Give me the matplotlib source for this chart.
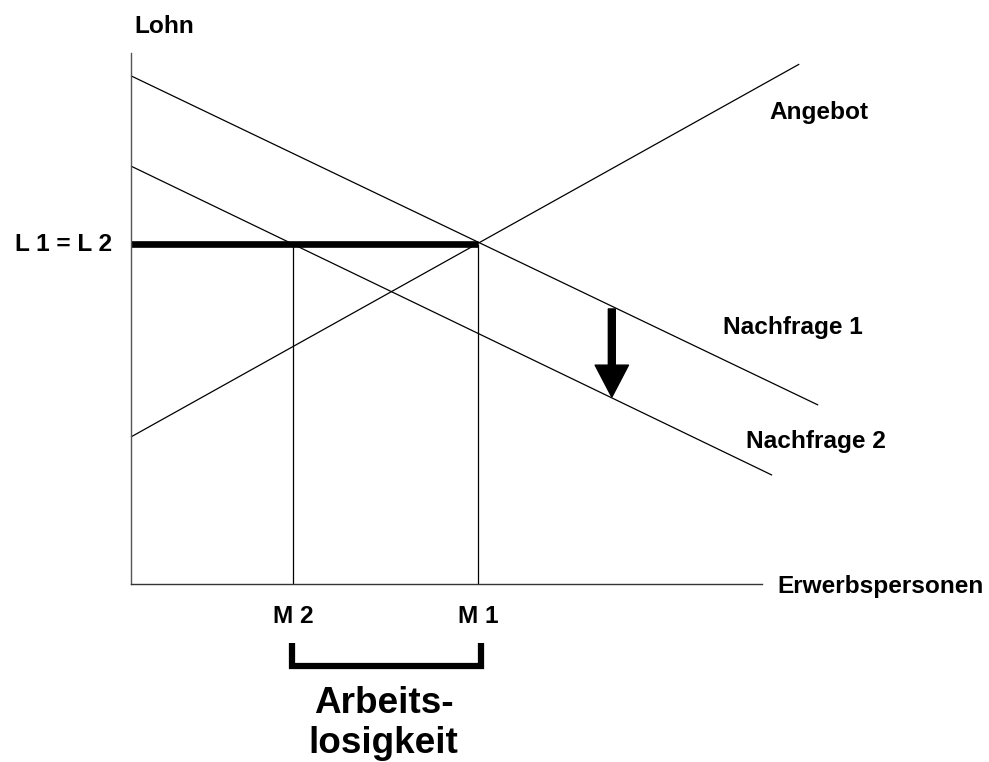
import matplotlib
matplotlib.use("Agg")
import matplotlib.pyplot as plt
from matplotlib.patches import FancyArrowPatch

plt.rcParams['font.family'] = ['Liberation Sans', 'DejaVu Sans']

# curve end points (x = Erwerbspersonen, y = Lohn, arbitrary units 0..100)
nachfrage1_x = [0, 108.9]
nachfrage1_y = [95.7, 33.7]
nachfrage2_x = [0, 101.6]
nachfrage2_y = [78.7, 20.5]
angebot_x = [0, 105.9]
angebot_y = [27.7, 97.9]

lohn = 64.0           # L 1 = L 2
m1, m2 = 55.0, 25.7   # employment levels
shift_x = 76.2
shift_y = [51.8, 35.2]

fig = plt.figure(figsize=(9.89, 7.62), dpi=100)
ax = fig.add_axes([131 / 989, 178 / 762, 631 / 989, 531 / 762])
ax.set_xlim(0, 100)
ax.set_ylim(0, 100)
for s in ['top', 'right']:
    ax.spines[s].set_visible(False)
ax.spines['left'].set_color('#555555')
ax.spines['bottom'].set_color('#333333')
ax.spines['left'].set_linewidth(1.0)
ax.spines['bottom'].set_linewidth(1.0)
ax.set_xticks([])
ax.set_yticks([])

thin = dict(color='black', lw=0.9, clip_on=False, solid_capstyle='butt')
ax.plot(nachfrage1_x, nachfrage1_y, **thin)
ax.plot(nachfrage2_x, nachfrage2_y, **thin)
ax.plot(angebot_x, angebot_y, **thin)

# wage line and employment levels
ax.plot([0, m1], [lohn, lohn], color='black', lw=4.8, solid_capstyle='butt', clip_on=False)
ax.plot([m1, m1], [0, lohn], **thin)
ax.plot([m2, m2], [0, lohn], **thin)

# shift of demand
arr = FancyArrowPatch((shift_x, shift_y[0]), (shift_x, shift_y[1]),
                      arrowstyle='simple,head_length=2.3,head_width=2.4,tail_width=0.5',
                      mutation_scale=10, color='black', shrinkA=0, shrinkB=0, clip_on=False)
ax.add_patch(arr)

# bracket for unemployment
ax.plot([m2 - 0.2, m2 - 0.2, m1 + 0.4, m1 + 0.4], [-11.1, -15.4, -15.4, -11.1],
        color='black', lw=4.5, solid_joinstyle='miter', solid_capstyle='butt', clip_on=False)

lab = dict(fontsize=17.6, fontweight='bold', va='baseline')
ax.text(0.5, 103.8, 'Lohn', ha='left', **lab)
ax.text(-3.0, lohn, 'L 1 = L 2', ha='right', fontsize=17.6, fontweight='bold', va='center')
ax.text(101.1, 87.6, 'Angebot', ha='left', **lab)
ax.text(93.8, 47.1, 'Nachfrage 1', ha='left', **lab)
ax.text(97.5, 25.6, 'Nachfrage 2', ha='left', **lab)
ax.text(102.5, -1.7, 'Erwerbspersonen', ha='left', **lab)
ax.text(m2, -7.3, 'M 2', ha='center', **lab)
ax.text(m1, -7.3, 'M 1', ha='center', **lab)
ax.text(40.0, -24.3, 'Arbeits-', ha='center', va='baseline', fontsize=26.6, fontweight='bold')
ax.text(40.0, -31.8, 'losigkeit', ha='center', va='baseline', fontsize=26.6, fontweight='bold')

fig.savefig('out.png', dpi=100)
